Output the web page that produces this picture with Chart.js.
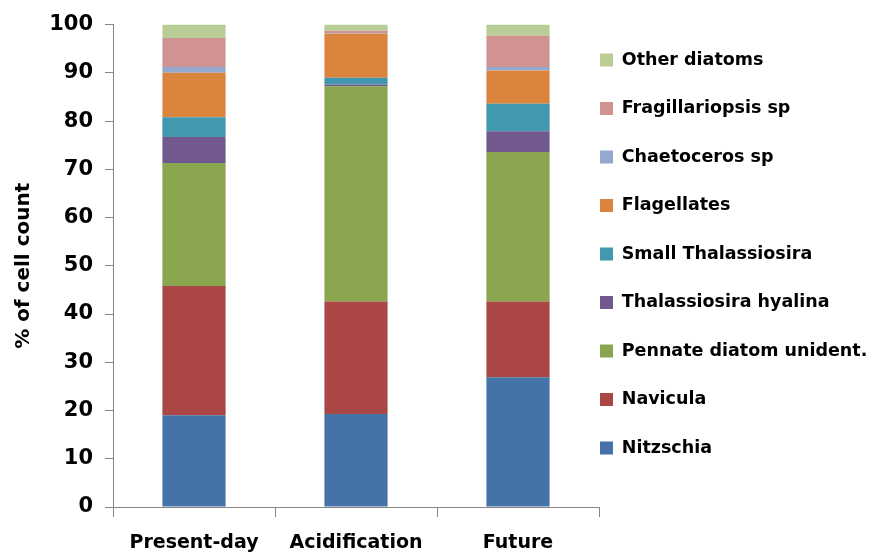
<!DOCTYPE html>
<html>
<head>
<meta charset="utf-8">
<script src="https://cdn.jsdelivr.net/npm/chart.js@4/dist/chart.umd.min.js"></script>
<style>
  html, body { margin: 0; padding: 0; background: #fff; overflow: hidden; }
  #wrap { width: 869px; height: 570px; }
</style>
</head>
<body>
<div id="wrap"><canvas id="c" width="869" height="570"></canvas></div>
<script>
const categories = ['Present-day', 'Acidification', 'Future'];

const nitzschia      = [19.0, 19.3, 26.9];
const navicula       = [26.8, 23.3, 15.7];
const pennate        = [25.5, 44.6, 31.0];
const tHyalina       = [5.4, 0.4, 4.3];
const smallThal      = [4.1, 1.4, 5.7];
const flagellates    = [9.2, 9.1, 6.9];
const chaetoceros    = [1.2, 0.1, 0.7];
const fragilariopsis = [6.0, 0.5, 6.5];
const otherDiatoms   = [2.8, 1.3, 2.3];

const seriesNames = ['Nitzschia', 'Navicula', 'Pennate diatom unident.', 'Thalassiosira hyalina',
  'Small Thalassiosira', 'Flagellates', 'Chaetoceros sp', 'Fragillariopsis sp', 'Other diatoms'];
const seriesValues = [nitzschia, navicula, pennate, tHyalina, smallThal, flagellates, chaetoceros, fragilariopsis, otherDiatoms];
const seriesColors = ['#4572A7', '#AA4643', '#89A54E', '#71588F', '#4198AF', '#DB843D', '#93A9CF', '#D19392', '#B9CD96'];

const yTicks = [0, 10, 20, 30, 40, 50, 60, 70, 80, 90, 100];

const FONT = 'DejaVu Sans';
const AXIS = '#868686';

const legendShift = {
  id: 'legendShift',
  afterLayout(chart) {
    const l = chart.legend;
    if (!l) return;
    l.left -= 30;
    l.width += 30;
    l.top -= 43; l.bottom -= 43;
  }
};

new Chart(document.getElementById('c'), {
  type: 'bar',
  data: {
    labels: categories,
    datasets: seriesNames.map((n, i) => ({
      label: n,
      data: seriesValues[i],
      backgroundColor: seriesColors[i],
      borderWidth: 0,
      barPercentage: 0.39,
      categoryPercentage: 1.0
    }))
  },
  options: {
    responsive: false,
    animation: false,
    devicePixelRatio: 1,
    layout: { padding: { top: 24, left: 0, right: 0, bottom: 0 } },
    plugins: {
      tooltip: { enabled: false },
      legend: {
        position: 'right',
        reverse: true,
        maxWidth: 270,
        labels: {
          boxWidth: 13,
          boxHeight: 13,
          padding: 31,
          color: '#000',
          font: { family: FONT, size: 17.5, weight: 'bold' }
        }
      }
    },
    scales: {
      x: {
        stacked: true,
        offset: true,
        afterFit(s) { s.height = 63; },
        grid: { offset: true, drawOnChartArea: false, drawTicks: true, tickLength: 10, color: AXIS, lineWidth: 1 },
        border: { display: true, color: AXIS, width: 1 },
        ticks: { color: '#000', padding: 15, maxRotation: 0, font: { family: FONT, size: 19, weight: 'bold' } }
      },
      y: {
        stacked: true,
        min: 0,
        max: 100,
        afterFit(s) { s.width = 113; },
        afterBuildTicks(s) { s.ticks = yTicks.map(v => ({ value: v })); },
        grid: { drawOnChartArea: false, drawTicks: true, tickLength: 8, color: AXIS, lineWidth: 1 },
        border: { display: true, color: AXIS, width: 1 },
        ticks: { color: '#000', padding: 12, font: { family: FONT, size: 21, weight: 'bold' } },
        title: {
          display: true,
          text: '% of cell count',
          color: '#000',
          padding: { top: 12, bottom: 0 },
          font: { family: FONT, size: 20, weight: 'bold' }
        }
      }
    }
  },
  plugins: [legendShift]
});
</script>
</body>
</html>
